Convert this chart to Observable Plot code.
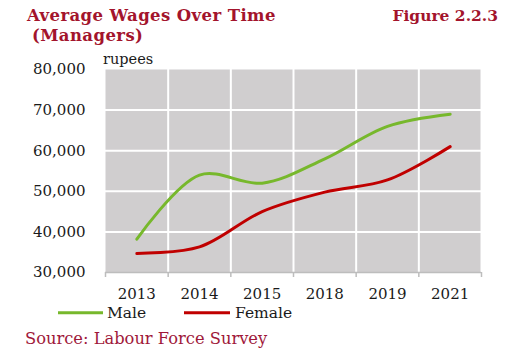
<!DOCTYPE html>
<html>
<head>
<meta charset="utf-8">
<script src="https://cdn.jsdelivr.net/npm/d3@7"></script>
<script src="https://cdn.jsdelivr.net/npm/@observablehq/plot@0.6"></script>
<style>
  html, body { margin: 0; padding: 0; background: #fff; }
  #wrap { position: relative; width: 528px; height: 353px; overflow: hidden; }
  #wrap > svg { position: absolute; left: 0; top: 0; }
</style>
</head>
<body>
<div id="wrap"></div>
<script>
// ---- data ----
const years = ["2013", "2014", "2015", "2018", "2019", "2021"];
const maleWages = [38200, 54000, 52000, 58000, 66000, 69000];
const femaleWages = [34700, 36300, 45000, 49800, 52800, 61000];
const yTicks = [30000, 40000, 50000, 60000, 70000, 80000];
const seriesNames = ["Male", "Female"];
const seriesColors = ["#77b82c", "#c00000"];

const idx = years.map((_, i) => i);
const bounds = d3.range(-0.5, years.length, 1);      // category boundaries
const rows = [
  ...years.map((y, i) => ({i, year: y, value: maleWages[i], series: "Male"})),
  ...years.map((y, i) => ({i, year: y, value: femaleWages[i], series: "Female"}))
];

const W = 528, H = 353;
const font = "DejaVu Serif, serif";

const chart = Plot.plot({
  width: W,
  height: H,
  marginLeft: 105,
  marginRight: 47,
  marginTop: 69,
  marginBottom: 81,
  style: {fontFamily: font, fontSize: "15px", color: "#1a1a1a", background: "transparent"},
  x: {type: "linear", domain: [-0.5, years.length - 0.5], axis: null},
  y: {domain: [30000, 80000], axis: null},
  color: {domain: seriesNames, range: seriesColors},
  marks: [
    Plot.frame({fill: "#d0cecf", stroke: "none"}),
    Plot.ruleY(yTicks.slice(1, -1), {stroke: "#ffffff", strokeWidth: 2}),
    Plot.ruleX(bounds.slice(1), {stroke: "#ffffff", strokeWidth: 2}),
    Plot.ruleY([30000], {stroke: "#bdbdbd", strokeWidth: 1.5}),
    Plot.axisX(bounds, {tickSize: 5, stroke: "#bdbdbd", strokeWidth: 1.5, tickFormat: () => "", label: null}),
    Plot.axisX(idx, {tickSize: 0, tickPadding: 16, tickFormat: i => years[i], label: null, fontSize: 15}),
    Plot.axisY(yTicks, {tickSize: 0, tickPadding: 20, tickFormat: d3.format(","), label: null, fontSize: 15}),
    Plot.line(rows, {x: "i", y: "value", z: "series", stroke: "series", strokeWidth: 3, curve: "catmull-rom"})
  ]
});
document.getElementById("wrap").appendChild(chart);

// ---- titles, legend, source (overlay) ----
const ov = d3.select("#wrap").append("svg")
  .attr("width", W).attr("height", H)
  .style("pointer-events", "none")
  .style("font-family", font);

const titleColor = "#a3142c";
ov.append("text").attr("x", 27).attr("y", 21)
  .attr("font-weight", "bold").attr("font-size", 16.5).attr("letter-spacing", 0.4).attr("fill", titleColor)
  .text("Average Wages Over Time");
ov.append("text").attr("x", 32).attr("y", 41)
  .attr("font-weight", "bold").attr("font-size", 16.5).attr("letter-spacing", 0.4).attr("fill", titleColor)
  .text("(Managers)");
ov.append("text").attr("x", 498).attr("y", 21).attr("text-anchor", "end")
  .attr("font-weight", "bold").attr("font-size", 15.5).attr("fill", titleColor)
  .text("Figure 2.2.3");
ov.append("text").attr("x", 103).attr("y", 63.5)
  .attr("font-size", 14.5).attr("fill", "#1a1a1a")
  .text("rupees");

// legend
const legendItems = [
  {name: seriesNames[0], color: seriesColors[0], x0: 58, x1: 103, tx: 107},
  {name: seriesNames[1], color: seriesColors[1], x0: 184, x1: 230, tx: 235}
];
legendItems.forEach(d => {
  ov.append("line").attr("x1", d.x0).attr("x2", d.x1).attr("y1", 312.7).attr("y2", 312.7)
    .attr("stroke", d.color).attr("stroke-width", 3);
  ov.append("text").attr("x", d.tx).attr("y", 317.5).attr("font-size", 15.5)
    .attr("fill", "#1a1a1a").text(d.name);
});

ov.append("text").attr("x", 25).attr("y", 344)
  .attr("font-size", 16.3).attr("fill", "#a0183a")
  .text("Source: Labour Force Survey");
</script>
</body>
</html>
